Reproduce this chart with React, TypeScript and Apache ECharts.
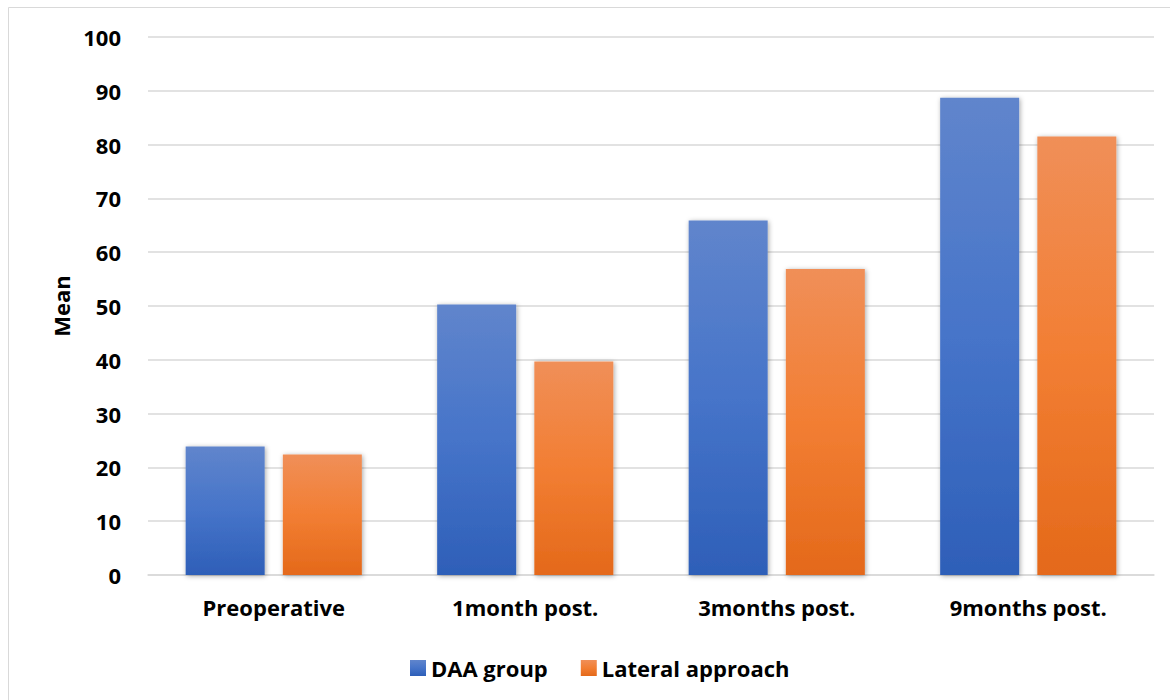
import React, { useEffect, useRef } from "react";
import * as echarts from "echarts";

const categories = ["Preoperative", "1month post.", "3months post.", "9months post."];
const daaGroup = [23.9, 50.3, 65.9, 88.7];
const lateralApproach = [22.4, 39.7, 56.9, 81.5];
const yTicks = { min: 0, max: 100, interval: 10 };

const FONT = "'Open Sans', 'Noto Sans', sans-serif";

const blueGradient = new echarts.graphic.LinearGradient(0, 0, 0, 1, [
  { offset: 0, color: "#6085cc" },
  { offset: 0.5, color: "#4674c9" },
  { offset: 1, color: "#2e5fb8" },
]);
const orangeGradient = new echarts.graphic.LinearGradient(0, 0, 0, 1, [
  { offset: 0, color: "#f08f58" },
  { offset: 0.5, color: "#f27e33" },
  { offset: 1, color: "#e4691a" },
]);

export default function App() {
  const ref = useRef<HTMLDivElement>(null);

  useEffect(() => {
    document.body.style.margin = "0";
    const chart = echarts.init(ref.current!, null, { renderer: "svg" });
    const shadow = {
      shadowBlur: 5,
      shadowColor: "rgba(0,0,0,0.35)",
      shadowOffsetX: 1,
      shadowOffsetY: 1,
    };
    const labelStyle = { fontFamily: FONT, fontSize: 22, fontWeight: "bold", color: "#000" };
    chart.setOption({
      animation: false,
      backgroundColor: "#ffffff",
      textStyle: { fontFamily: FONT },
      graphic: [
        {
          type: "rect",
          shape: { x: 8.5, y: 7.5, width: 1180, height: 720 },
          style: { fill: "none", stroke: "#d9d9d9", lineWidth: 1 },
          silent: true,
        },
      ],
      grid: { left: 148, right: 16, top: 37, bottom: 125 },
      legend: {
        left: 405,
        top: 652,
        itemWidth: 16,
        itemHeight: 16,
        itemGap: 33,
        icon: "rect",
        textStyle: labelStyle,
        data: ["DAA group", "Lateral approach"],
      },
      xAxis: {
        type: "category",
        data: categories,
        axisTick: { show: false },
        axisLine: { lineStyle: { color: "#d9d9d9", width: 1.5 } },
        axisLabel: { ...labelStyle, margin: 21 },
      },
      yAxis: {
        type: "value",
        min: yTicks.min,
        max: yTicks.max,
        interval: yTicks.interval,
        name: "Mean",
        nameLocation: "middle",
        nameGap: 76,
        nameRotate: 90,
        nameTextStyle: labelStyle,
        axisLine: { show: false },
        axisTick: { show: false },
        splitLine: { lineStyle: { color: "#d9d9d9", width: 1.5 } },
        axisLabel: { ...labelStyle, margin: 27 },
      },
      series: [
        {
          name: "DAA group",
          type: "bar",
          data: daaGroup,
          barWidth: 79,
          barGap: "23%",
          itemStyle: { color: blueGradient, ...shadow },
        },
        {
          name: "Lateral approach",
          type: "bar",
          data: lateralApproach,
          barWidth: 79,
          itemStyle: { color: orangeGradient, ...shadow },
        },
      ],
    });
    return () => chart.dispose();
  }, []);

  return <div ref={ref} style={{ width: 1170, height: 700 }} />;
}
